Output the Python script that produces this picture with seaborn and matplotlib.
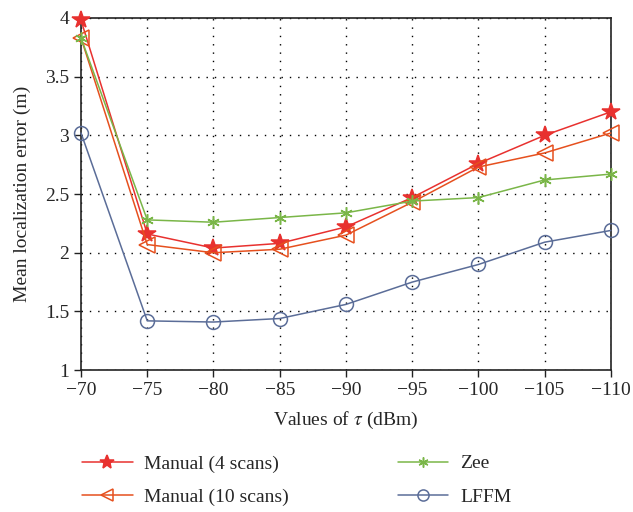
"""
Mean localization error vs tau threshold
"""

import seaborn as sns
import numpy as np
import matplotlib.pyplot as plt

tau = [-70, -75, -80, -85, -90, -95, -100, -105, -110]
manual_4 = [3.98, 2.16, 2.04, 2.08, 2.22, 2.47, 2.76, 3.00, 3.20]
manual_10 = [3.83, 2.07, 2.00, 2.03, 2.15, 2.43, 2.73, 2.85, 3.02]
zee = [3.83, 2.28, 2.26, 2.30, 2.34, 2.44, 2.47, 2.62, 2.67]
lffm = [3.02, 1.42, 1.41, 1.44, 1.56, 1.75, 1.90, 2.09, 2.19]

series = [
    ("Manual (4 scans)", manual_4, "#e8312f", "*", 13, "#e8312f"),
    ("Manual (10 scans)", manual_10, "#e6501e", "<", 11, "none"),
    ("Zee", zee, "#7ab648", (6, 2, 0), 9, "#7ab648"),
    ("LFFM", lffm, "#5b6d98", "o", 10, "none"),
]

sns.set_style("ticks")
plt.rcParams["font.family"] = ["Liberation Serif", "DejaVu Serif"]
plt.rcParams["mathtext.fontset"] = "stix"

fig = plt.figure(figsize=(6.33, 5.12), dpi=100)
ax = fig.add_axes([0.128, 0.277, 0.837, 0.688])

for name, vals, col, mk, ms, fc in series:
    sns.lineplot(x=tau, y=vals, ax=ax, label=name, color=col, lw=1.1,
                 marker=mk, markersize=ms, markerfacecolor=fc,
                 markeredgecolor=col, markeredgewidth=1.1, clip_on=False,
                 zorder=3)

ax.set_xlim(-70, -110)
ax.set_ylim(1, 4)
ax.set_xticks(np.arange(-70, -111, -5))
ax.set_yticks([1, 1.5, 2, 2.5, 3, 3.5, 4])
ax.set_yticklabels(["1", "1.5", "2", "2.5", "3", "3.5", "4"])
ax.grid(True, color="black", linestyle=(0, (1, 5)), linewidth=1.0)
for s in ax.spines.values():
    s.set_color("#222222")
    s.set_linewidth(1.2)
ax.tick_params(labelsize=14, length=5, width=1.0, color="#222222")
ax.set_xlabel("Values of $\\tau$ (dBm)", fontsize=14, labelpad=8)
ax.set_ylabel("Mean localization error (m)", fontsize=14, labelpad=10)

ax.get_legend().remove()
h, l = ax.get_legend_handles_labels()
fig.legend(h, l, loc="lower left", bbox_to_anchor=(0.102, -0.022), ncol=2,
           frameon=False, fontsize=14, handlelength=2.6, handletextpad=0.6,
           columnspacing=5.6, labelspacing=0.8, markerscale=0.8)

fig.savefig("out.png", dpi=100)
